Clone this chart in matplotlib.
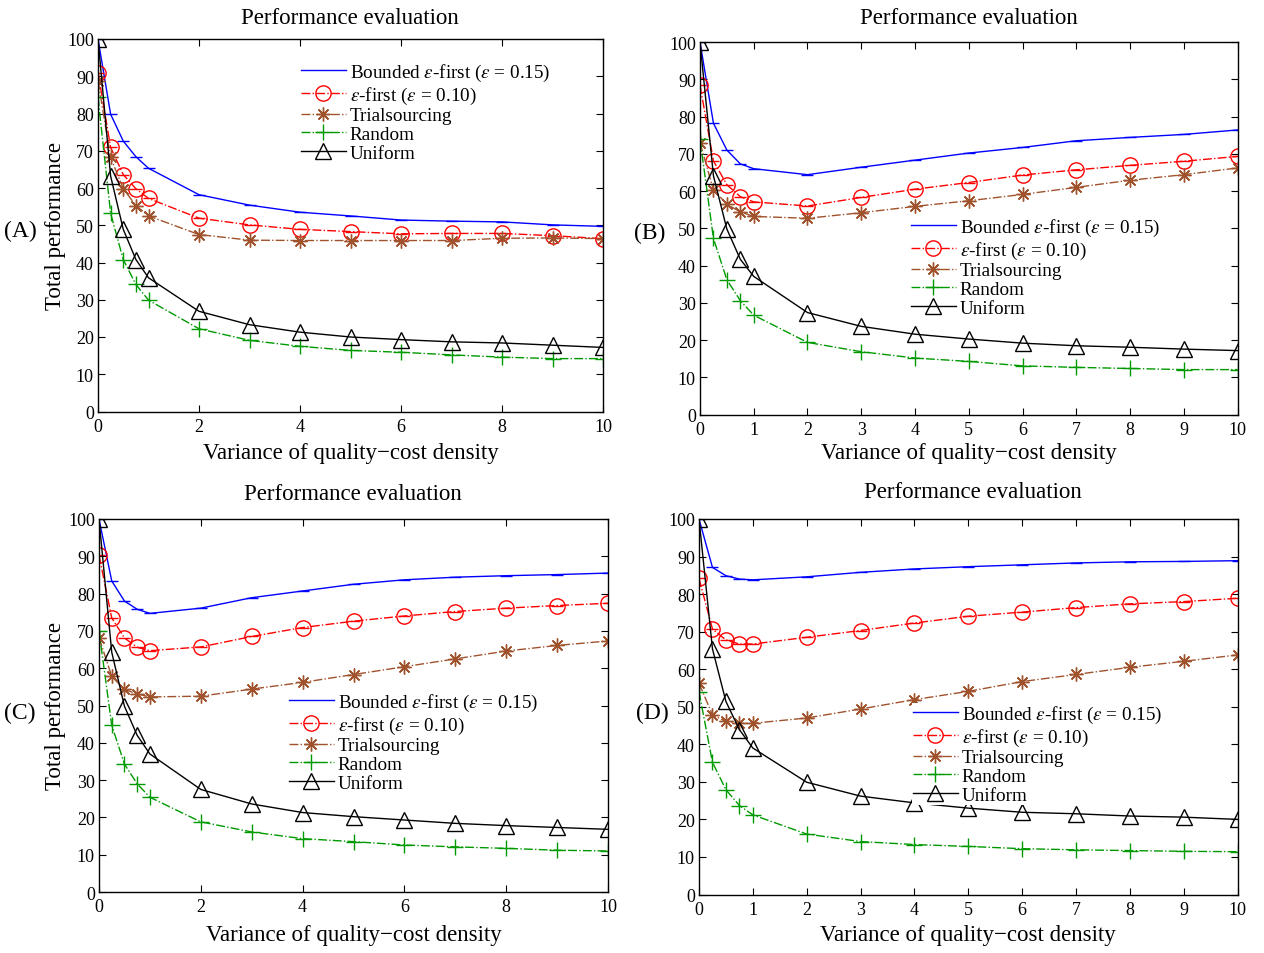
import matplotlib
matplotlib.use("Agg")
import matplotlib.pyplot as plt
from matplotlib.ticker import MultipleLocator

plt.rcParams['font.family'] = ['Liberation Serif', 'DejaVu Serif']
plt.rcParams['mathtext.fontset'] = 'stix'

x = [0, 0.25, 0.5, 0.75, 1, 2, 3, 4, 5, 6, 7, 8, 9, 10]

bounded_A = [100, 79.8, 72.6, 68.4, 65.3, 58.2, 55.4, 53.5, 52.5, 51.4, 51.1, 50.9, 50.1, 49.7]
efirst_A = [91.0, 70.9, 63.6, 59.8, 57.2, 51.9, 50.1, 48.9, 48.3, 47.7, 47.8, 47.8, 47.2, 46.4]
trial_A = [88.8, 68.2, 59.8, 55.3, 52.5, 47.5, 46.0, 45.9, 45.9, 45.9, 45.9, 46.5, 46.6, 46.4]
random_A = [84.3, 53.2, 40.8, 34.1, 29.9, 22.2, 19.1, 17.5, 16.4, 15.9, 15.2, 14.6, 14.2, 14.2]
uniform_A = [100, 63.2, 48.9, 40.8, 35.9, 26.9, 23.3, 21.3, 20.0, 19.3, 18.7, 18.4, 17.8, 17.2]

bounded_B = [100, 78.2, 71.0, 67.3, 66.0, 64.4, 66.4, 68.3, 70.2, 71.7, 73.5, 74.4, 75.2, 76.4]
efirst_B = [88.4, 68.1, 61.7, 58.5, 57.1, 56.0, 58.3, 60.5, 62.3, 64.3, 65.7, 66.9, 68.0, 69.3]
trial_B = [73.0, 60.3, 56.5, 54.4, 53.2, 52.7, 54.2, 55.9, 57.4, 59.1, 61.0, 62.9, 64.4, 66.2]
random_B = [73.9, 47.3, 36.2, 30.6, 26.7, 19.4, 16.9, 15.2, 14.3, 13.1, 12.7, 12.4, 12.1, 12.1]
uniform_B = [100, 64.1, 49.8, 41.7, 37.1, 27.4, 23.7, 21.6, 20.3, 19.2, 18.5, 18.1, 17.6, 17.2]

bounded_C = [100, 83.4, 78.0, 75.8, 74.7, 76.1, 78.9, 80.7, 82.5, 83.7, 84.4, 84.8, 85.1, 85.5]
efirst_C = [90.3, 73.5, 68.1, 65.6, 64.7, 65.7, 68.5, 70.9, 72.6, 74.0, 75.2, 76.1, 76.8, 77.4]
trial_C = [68.2, 57.8, 54.3, 53.1, 52.3, 52.5, 54.4, 56.2, 58.3, 60.4, 62.5, 64.6, 66.1, 67.3]
random_C = [70.0, 44.7, 34.3, 29.0, 25.4, 18.8, 16.1, 14.3, 13.5, 12.6, 12.1, 11.7, 11.2, 11.0]
uniform_C = [100, 64.3, 49.8, 42.0, 37.0, 27.5, 23.6, 21.3, 20.2, 19.3, 18.4, 17.8, 17.3, 16.8]

bounded_D = [100, 87.1, 84.9, 84.0, 83.8, 84.6, 85.8, 86.7, 87.3, 87.8, 88.3, 88.6, 88.7, 88.9]
efirst_D = [84.2, 70.7, 67.8, 66.7, 66.7, 68.5, 70.3, 72.3, 74.1, 75.2, 76.4, 77.4, 78.0, 78.9]
trial_D = [56.3, 47.8, 46.1, 45.6, 45.6, 47.0, 49.4, 51.9, 54.1, 56.7, 58.6, 60.5, 62.1, 63.8]
random_D = [54.0, 35.2, 27.9, 23.7, 21.2, 16.1, 14.1, 13.3, 12.8, 12.2, 11.9, 11.7, 11.5, 11.4]
uniform_D = [100, 65.4, 51.4, 43.9, 39.0, 29.9, 26.2, 24.4, 23.0, 21.9, 21.5, 20.9, 20.6, 20.0]

labels = [r'Bounded $\varepsilon$-first ($\varepsilon$ = 0.15)',
          r'$\varepsilon$-first ($\varepsilon$ = 0.10)',
          'Trialsourcing', 'Random', 'Uniform']
panel_names = ['(A)', '(B)', '(C)', '(D)']
title_text = 'Performance evaluation'
xlabel_text = 'Variance of quality\u2212cost density'
ylabel_text = 'Total performance'

panels = [
    (bounded_A, efirst_A, trial_A, random_A, uniform_A),
    (bounded_B, efirst_B, trial_B, random_B, uniform_B),
    (bounded_C, efirst_C, trial_C, random_C, uniform_C),
    (bounded_D, efirst_D, trial_D, random_D, uniform_D),
]

W, H = 1264, 954
fig = plt.figure(figsize=(W / 100, H / 100), dpi=100)

# axes boxes in pixels: left, top, right, bottom
boxes = [(98, 40, 603, 412.5), (700, 43, 1237.5, 415.7),
         (99, 520, 608, 893), (699, 520, 1237.5, 895.5)]
xstep = [2, 1, 2, 1]
legend_anchor = [(300, 62), (910, 217), (288, 692), (912, 704)]
label_pos = [(20, 231), (650, 233), (20, 713), (652, 713)]
title_pos = [(350, 18), (969, 18), (353, 494), (973, 493)]
xlabel_top = [443, 443, 925, 925]

blue = '#0000ff'
red = '#ff0000'
brown = '#a0522d'
green = '#009a00'
asterisk = (8, 2, 0)

for i, (b, e, t, r, u) in enumerate(panels):
    l, tp, rt, bt = boxes[i]
    aw, ah = rt - l, bt - tp
    ax = fig.add_axes([l / W, 1 - bt / H, aw / W, ah / H])
    ax.plot(x, b, '-', color=blue, lw=1.0, label=labels[0])
    ax.plot(x, b, linestyle='none', marker='_', color=blue, ms=9, mew=1.0)
    ax.plot(x, e, '-.', color=red, lw=1.0, marker='o', ms=11, mfc='none',
            mec=red, mew=1.0, label=labels[1])
    ax.plot(x, e, linestyle='none', marker='_', color=red, ms=9, mew=1.0)
    ax.plot(x, t, '-.', color=brown, lw=1.0, marker=asterisk, ms=10,
            mec=brown, mew=1.0, label=labels[2])
    ax.plot(x, r, '-.', color=green, lw=1.0, marker='+', ms=11, mec=green,
            mew=1.0, label=labels[3])
    ax.plot(x, u, '-', color='black', lw=1.0, marker='^', ms=11, mfc='none',
            mec='black', mew=1.0, label=labels[4])
    ax.set_xlim(0, 10)
    ax.set_ylim(0, 100)
    ax.xaxis.set_major_locator(MultipleLocator(xstep[i]))
    ax.yaxis.set_major_locator(MultipleLocator(10))
    ax.tick_params(direction='in', length=5, width=0.8, top=True, right=True,
                   labelsize=13)
    ax.tick_params(axis='x', pad=4.5)
    ax.tick_params(axis='y', pad=3)
    for s in ax.spines.values():
        s.set_linewidth(1.0)
    tx, ty = title_pos[i]
    fig.text(tx / W, 1 - ty / H, title_text, fontsize=16.5,
             ha='center', va='center')
    ax.set_xlabel(xlabel_text, fontsize=16.5)
    ax.xaxis.set_label_coords(0.5, -(xlabel_top[i] - bt) / ah)
    if i in (0, 2):
        ax.set_ylabel(ylabel_text, fontsize=16.5)
        ax.yaxis.set_label_coords(-(l - 66) / aw, 0.5)
    lx, ly = legend_anchor[i]
    ax.legend(loc='upper left',
              bbox_to_anchor=((lx - l) / aw, 1 - (ly - tp) / ah),
              fontsize=13.8, frameon=True, facecolor='white',
              edgecolor='none', framealpha=1, fancybox=False,
              borderpad=0.05, labelspacing=0.07, handlelength=2.35,
              handletextpad=0.2, borderaxespad=0)
    px, py = label_pos[i]
    fig.text(px / W, 1 - py / H, panel_names[i], fontsize=17,
             ha='center', va='center')

fig.savefig('out.png', dpi=100)
